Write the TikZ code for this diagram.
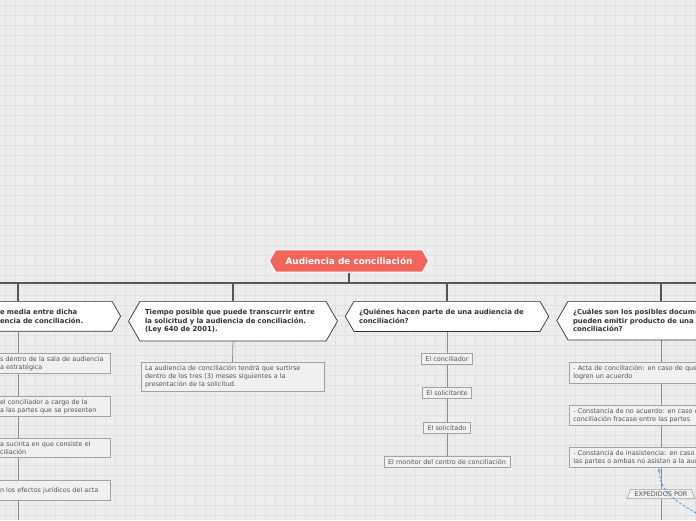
\documentclass[tikz,border=0pt]{standalone}
\usepackage{fontspec}
\setmainfont{DejaVu Sans}
\usetikzlibrary{positioning,arrows.meta,shapes.symbols,shapes.geometric,backgrounds}
\definecolor{bgc}{HTML}{EDEDED}
\definecolor{gridc}{HTML}{E1E1E1}
\definecolor{rootc}{HTML}{F2655C}
\definecolor{busc}{HTML}{555555}
\definecolor{linec}{HTML}{8C8C8C}
\definecolor{boxc}{HTML}{F0F0F0}
\definecolor{boxline}{HTML}{A3A3A3}
\definecolor{txtc}{HTML}{555555}
\definecolor{topicc}{HTML}{333333}
\definecolor{linkc}{HTML}{5B9BE0}

\begin{document}
\begin{tikzpicture}[x=1pt,y=-1pt,>={Stealth[length=4pt]},
  root/.style={signal,signal to=west and east,signal pointer angle=122,fill=rootc,draw=white,line width=1pt,
    text=white,font=\fontsize{8.9}{10}\selectfont\bfseries,inner xsep=10pt,inner ysep=7.5pt},
  topic/.style={signal,signal to=west and east,signal pointer angle=120,fill=white,draw=topicc,line width=0.7pt,
    text=topicc,font=\fontsize{6.9}{8.5}\selectfont\bfseries,align=left,text width=176pt,inner xsep=5pt,
    inner ysep=8pt,anchor=north},
  leaf/.style={rectangle,fill=boxc,draw=boxline,line width=0.6pt,text=txtc,font=\fontsize{6.45}{8}\selectfont,
    align=left,inner xsep=4pt,inner ysep=3.1pt,anchor=north},
  wide/.style={leaf,text width=175pt},
  bus/.style={draw=busc,line width=1.6pt},
  trunk/.style={draw=linec,line width=0.8pt},
  link/.style={->,draw=linkc,line width=0.9pt,dash pattern=on 2.5pt off 1.8pt}]
\useasboundingbox (0,0) rectangle (696,520);
\clip (0,0) rectangle (696,520);

\begin{scope}[on background layer]
\fill[bgc] (0,0) rectangle (696,520);
\foreach \k in {0,...,69} \draw[gridc,line width=0.7pt] (5+10*\k,0) -- (5+10*\k,520);
\foreach \k in {0,...,51} \draw[gridc,line width=0.7pt] (0,5+10*\k) -- (696,5+10*\k);
\end{scope}

% central topic
\node[root] (root) at (349,261) {Audiencia de conciliación};
\coordinate (busL) at (0,283);
\coordinate (busR) at (696,283);
\draw[bus] (busL) -- (busR);
\draw[bus] (root.south) -- (root.south |- busL);

% main branches
\node[topic,text width=107pt] (t1) at (53.5,301) {e media entre dicha\\encia de conciliación.};
\node[topic] (t2) at (233,301) {Tiempo posible que puede transcurrir entre\\la solicitud y la audiencia de conciliación.\\(Ley 640 de 2001).};
\node[topic] (t3) at (447,301) {¿Quiénes hacen parte de una audiencia de\\conciliación?};
\node[topic] (t4) at (661,301) {¿Cuáles son los posibles documentos que se\\pueden emitir producto de una audiencia de\\conciliación?};
\coordinate (d1) at (18,301);
\draw[bus] (d1 |- busL) -- (d1);
\foreach \t in {t2,t3,t4} \draw[bus] (\t.north |- busL) -- (\t.north);

% first branch
\node[leaf,text width=106pt] (c11) at (53,353) {s dentro de la sala de audiencia\\a estratégica};
\node[leaf,text width=106pt] (c12) at (53,396) {el conciliador a cargo de la\\a las partes que se presenten};
\node[leaf,text width=106pt] (c13) at (53,438) {a sucinta en que consiste el\\ciliación};
\node[leaf,text width=106pt,minimum height=20pt] (c14) at (53,480) {n los efectos jurídicos del acta};

% second branch
\node[wide] (c21) at (232.5,362) {La audiencia de conciliación tendrá que surtirse\\dentro de los tres (3) meses siguientes a la\\presentación de la solicitud.};

% third branch
\node[leaf] (c31) at (447,353) {El conciliador};
\node[leaf] (c32) at (447,387) {El solicitante};
\node[leaf] (c33) at (447,422) {El solicitado};
\node[leaf] (c34) at (447,456) {El monitor del centro de conciliación};

% fourth branch
\node[leaf,anchor=north west,text width=200pt] (c41) at (569,362) {- Acta de conciliación: en caso de que las partes\\logren un acuerdo};
\node[leaf,anchor=north west,text width=200pt] (c42) at (569,405) {- Constancia de no acuerdo: en caso de que la\\conciliación fracase entre las partes};
\node[leaf,anchor=north west,text width=200pt] (c43) at (569,447) {- Constancia de inasistencia: en caso de que una de\\las partes o ambas no asistan a la audiencia};
\node[leaf,trapezium,trapezium left angle=70,trapezium right angle=70,inner ysep=2.3pt] (exp) at (661,489) {EXPEDIDOS POR};

\coordinate (e1) at (18,520);
\coordinate (e4) at (661,520);
\begin{scope}[on background layer]
\draw[trunk] (d1 |- t1.south) -- (e1);
\draw[trunk] (t2.south) -- (c21.north);
\draw[trunk] (t3.south) -- (c34.north);
\draw[trunk] (t4.south) -- (e4);
\end{scope}

\coordinate (src) at (700,515);
\draw[link] (src) .. controls (672,500) and (660,490) .. ([xshift=-2pt]c43.south -| t4.south);
\end{tikzpicture}
\end{document}
